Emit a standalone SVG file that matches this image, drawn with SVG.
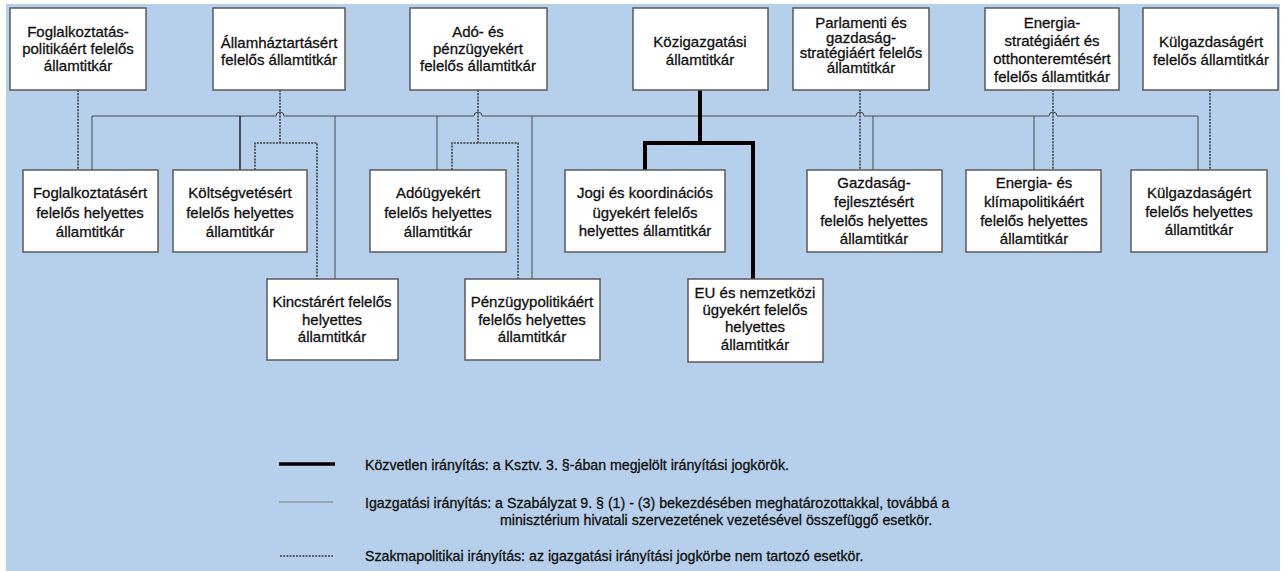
<svg xmlns="http://www.w3.org/2000/svg" width="1283" height="571" viewBox="0 0 1283 571">
<defs>
<style>
.bg{fill:#b6cfea}
.box{fill:#ffffff;stroke:#5a5a5a;stroke-width:1.5}
.t{font-family:"Liberation Sans",Arial,sans-serif;font-size:15px;fill:#111;stroke:#111;stroke-width:0.3;text-anchor:middle}
.lg{font-family:"Liberation Sans",Arial,sans-serif;font-size:14.2px;fill:#111;stroke:#111;stroke-width:0.3}
.thin{fill:none;stroke:#4a4a4a;stroke-width:1}
.dark{fill:none;stroke:#1a1a1a;stroke-width:1.4}
.dot{fill:none;stroke:#3a3a3a;stroke-width:1.5;stroke-dasharray:2 1.2}
.thick{fill:none;stroke:#000;stroke-width:4;stroke-linejoin:miter}
</style>
</defs>
<rect x="0" y="0" width="1283" height="571" fill="#ffffff"/>
<rect class="bg" x="6" y="4" width="1274" height="567"/>

<g id="connectors">
<path class="thin" d="M92,170 V116 H276 a4,4 0 0 1 8,0 H474 a4,4 0 0 1 8,0 H856 a4,4 0 0 1 8,0 H1049 a4,4 0 0 1 8,0 H1198 V170"/>
<path class="dark" d="M240,116 V170"/>
<path class="thin" d="M335,116 V279"/>
<path class="thin" d="M437,116 V170"/>
<path class="thin" d="M532,116 V279"/>
<path class="thin" d="M873,116 V170"/>
<path class="thin" d="M1034,116 V170"/>
<path class="dot" d="M78,90 V170"/>
<path class="dot" d="M280,90 V143"/>
<path class="dot" d="M255,170 V143 H317 V279"/>
<path class="dot" d="M478,90 V143"/>
<path class="dot" d="M452,170 V143 H518 V279"/>
<path class="dot" d="M860,90 V170"/>
<path class="dot" d="M1053,90 V170"/>
<path class="dot" d="M1210,90 V170"/>
<path class="thick" d="M700,90 V143"/>
<path class="thick" d="M645,170 V143 H753 V279"/>
</g>

<g id="n-foglalkoztataspolitika"><rect class="box" x="10" y="8" width="136" height="82"/><text class="t" x="78" y="37">Foglalkoztatás-</text><text class="t" x="78" y="54">politikáért felelős</text><text class="t" x="78" y="71">államtitkár</text></g>
<g id="n-allamhaztartas"><rect class="box" x="213" y="8" width="132" height="82"/><text class="t" x="279" y="48">Államháztartásért</text><text class="t" x="279" y="65">felelős államtitkár</text></g>
<g id="n-ado"><rect class="box" x="410" y="8" width="137" height="82"/><text class="t" x="478" y="37">Adó- és</text><text class="t" x="478" y="54">pénzügyekért</text><text class="t" x="478" y="71">felelős államtitkár</text></g>
<g id="n-kozigazgatasi"><rect class="box" x="633" y="8" width="135" height="82"/><text class="t" x="700" y="47">Közigazgatási</text><text class="t" x="700" y="65">államtitkár</text></g>
<g id="n-parlamenti"><rect class="box" x="793" y="8" width="136" height="82"/><text class="t" x="861" y="28">Parlamenti és</text><text class="t" x="861" y="43">gazdaság-</text><text class="t" x="861" y="58">stratégiáért felelős</text><text class="t" x="861" y="73">államtitkár</text></g>
<g id="n-energia"><rect class="box" x="985" y="8" width="134" height="82"/><text class="t" x="1052" y="28">Energia-</text><text class="t" x="1052" y="46">stratégiáért és</text><text class="t" x="1052" y="64">otthonteremtésért</text><text class="t" x="1052" y="82">felelős államtitkár</text></g>
<g id="n-kulgazdasag"><rect class="box" x="1143" y="8" width="135" height="82"/><text class="t" x="1211" y="47">Külgazdaságért</text><text class="t" x="1211" y="65">felelős államtitkár</text></g>

<g id="n-foglalkoztatas-h"><rect class="box" x="23" y="170" width="135" height="82"/><text class="t" x="90" y="198">Foglalkoztatásért</text><text class="t" x="90" y="218">felelős helyettes</text><text class="t" x="90" y="237">államtitkár</text></g>
<g id="n-koltsegvetes-h"><rect class="box" x="173" y="170" width="134" height="82"/><text class="t" x="240" y="198">Költségvetésért</text><text class="t" x="240" y="218">felelős helyettes</text><text class="t" x="240" y="237">államtitkár</text></g>
<g id="n-adougy-h"><rect class="box" x="370" y="170" width="136" height="82"/><text class="t" x="438" y="198">Adóügyekért</text><text class="t" x="438" y="218">felelős helyettes</text><text class="t" x="438" y="237">államtitkár</text></g>
<g id="n-jogi-h"><rect class="box" x="565" y="170" width="160" height="82"/><text class="t" x="645" y="198">Jogi és koordinációs</text><text class="t" x="645" y="218">ügyekért felelős</text><text class="t" x="645" y="236">helyettes államtitkár</text></g>
<g id="n-gazdasagfejl-h"><rect class="box" x="807" y="170" width="135" height="82"/><text class="t" x="874" y="188">Gazdaság-</text><text class="t" x="874" y="207">fejlesztésért</text><text class="t" x="874" y="226">felelős helyettes</text><text class="t" x="874" y="244">államtitkár</text></g>
<g id="n-klima-h"><rect class="box" x="966" y="170" width="135" height="82"/><text class="t" x="1034" y="188">Energia- és</text><text class="t" x="1034" y="207">klímapolitikáért</text><text class="t" x="1034" y="226">felelős helyettes</text><text class="t" x="1034" y="244">államtitkár</text></g>
<g id="n-kulgazdasag-h"><rect class="box" x="1131" y="170" width="136" height="82"/><text class="t" x="1199" y="198">Külgazdaságért</text><text class="t" x="1199" y="217">felelős helyettes</text><text class="t" x="1199" y="235">államtitkár</text></g>

<g id="n-kincstar-h"><rect class="box" x="267" y="279" width="131" height="81"/><text class="t" x="332" y="307">Kincstárért felelős</text><text class="t" x="332" y="325">helyettes</text><text class="t" x="332" y="342">államtitkár</text></g>
<g id="n-penzugypol-h"><rect class="box" x="465" y="279" width="135" height="81"/><text class="t" x="532" y="307">Pénzügypolitikáért</text><text class="t" x="532" y="325">felelős helyettes</text><text class="t" x="532" y="342">államtitkár</text></g>
<g id="n-eu-h"><rect class="box" x="688" y="279" width="135" height="83"/><text class="t" x="755" y="298">EU és nemzetközi</text><text class="t" x="755" y="315">ügyekért felelős</text><text class="t" x="755" y="332">helyettes</text><text class="t" x="755" y="350">államtitkár</text></g>

<g id="legend">
<path class="thick" d="M279,464 H335" style="stroke-width:3.5"/>
<path d="M279,502 H333" fill="none" stroke="#7a7a7a" stroke-width="1"/>
<path class="dot" d="M280,556 H333" style="stroke-width:1.3"/>
<text class="lg" x="365" y="470">Közvetlen irányítás: a Ksztv. 3. §-ában megjelölt irányítási jogkörök.</text>
<text class="lg" x="365" y="508">Igazgatási irányítás: a Szabályzat 9. § (1) - (3) bekezdésében meghatározottakkal, továbbá a</text>
<text class="lg" x="500" y="525">minisztérium hivatali szervezetének vezetésével összefüggő esetkör.</text>
<text class="lg" x="365" y="561">Szakmapolitikai irányítás: az igazgatási irányítási jogkörbe nem tartozó esetkör.</text>
</g>
</svg>
